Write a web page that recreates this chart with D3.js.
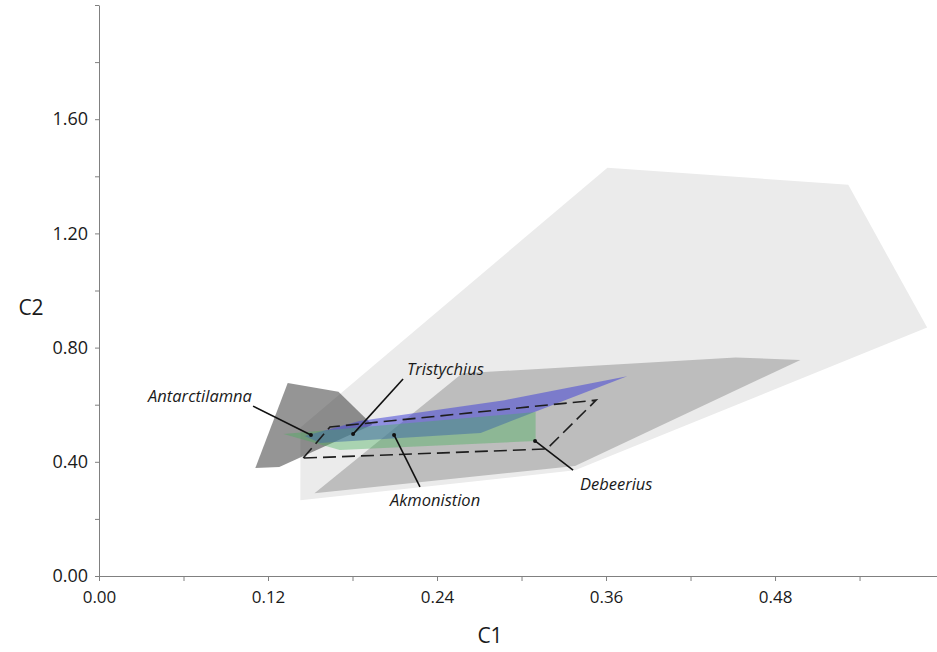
<!DOCTYPE html>
<html>
<head>
<meta charset="utf-8">
<script src="https://cdn.jsdelivr.net/npm/d3@7"></script>
<style>
  html, body { margin: 0; padding: 0; background: #fff; }
  svg { display: block; }
  text { font-family: "Open Sans", "Noto Sans", sans-serif; fill: #1a1a1a; }
</style>
</head>
<body>
<svg id="chart" width="937" height="652"></svg>
<script>
// Morphospace hulls in C1 / C2 space, listed back to front: [C1, C2] vertices
const hullLight  = [[0.143, 0.265], [0.143, 0.52], [0.361, 1.43], [0.532, 1.37], [0.588, 0.87], [0.338, 0.37]];
const hullMedium = [[0.153, 0.29], [0.258, 0.71], [0.452, 0.765], [0.498, 0.757], [0.338, 0.385]];
const hullDark   = [[0.134, 0.676], [0.170, 0.645], [0.194, 0.53], [0.128, 0.382], [0.111, 0.378]];
const hullBlue   = [[0.146, 0.490], [0.185, 0.543], [0.288, 0.616], [0.375, 0.700], [0.271, 0.501], [0.157, 0.466]];
const hullGreen  = [[0.131, 0.497], [0.310, 0.574], [0.310, 0.473], [0.171, 0.441]];
const hullDashed = [[0.145, 0.413], [0.164, 0.522], [0.353, 0.616], [0.318, 0.445]];

// Taxon call-outs: label anchor, leader start (at label) and leader end (dot on the hull)
const calloutNames  = ["Antarctilamna", "Tristychius", "Akmonistion", "Debeerius"];
const calloutText   = [[0.1086, 0.610], [0.2187, 0.704], [0.2066, 0.245], [0.3415, 0.301]];
const calloutAnchor = ["end", "start", "start", "start"];
const calloutFrom   = [[0.1094, 0.595], [0.2159, 0.690], [0.2279, 0.312], [0.3366, 0.371]];
const calloutTo     = [[0.1505, 0.494], [0.1804, 0.497], [0.2095, 0.494], [0.3096, 0.473]];

// Axes
const xTicks = [0, 0.06, 0.12, 0.18, 0.24, 0.30, 0.36, 0.42, 0.48, 0.54];
const xTickLabels = ["0.00", "", "0.12", "", "0.24", "", "0.36", "", "0.48", ""];
const yTicks = [0, 0.2, 0.4, 0.6, 0.8, 1.0, 1.2, 1.4, 1.6, 1.8, 2.0];
const yTickLabels = ["0.00", "", "0.40", "", "0.80", "", "1.20", "", "1.60", "", ""];
const xTitle = "C1";
const yTitle = "C2";

const svg = d3.select("#chart");
const x = d3.scaleLinear().domain([0, 0.595]).range([99, 937]);
const y = d3.scaleLinear().domain([0, 2]).range([576, 5]);

const poly = pts => "M" + pts.map(p => x(p[0]) + "," + y(p[1])).join("L") + "Z";

const hulls = [
  { pts: hullLight,  fill: "#ebebeb", opacity: 1 },
  { pts: hullMedium, fill: "#bdbdbd", opacity: 1 },
  { pts: hullDark,   fill: "#2b2b2b", opacity: 0.5 },
  { pts: hullBlue,   fill: "rgb(70,70,215)", opacity: 0.55 },
  { pts: hullGreen,  fill: "rgb(70,175,90)", opacity: 0.4 }
];

svg.append("g").selectAll("path")
  .data(hulls)
  .join("path")
  .attr("d", d => poly(d.pts))
  .attr("fill", d => d.fill)
  .attr("fill-opacity", d => d.opacity)
  .attr("stroke", "none");

svg.append("path")
  .attr("d", poly(hullDashed))
  .attr("fill", "none")
  .attr("stroke", "#1e1e1e")
  .attr("stroke-width", 1.6)
  .attr("stroke-dasharray", "13,6");

// Call-outs
const callouts = calloutNames.map((name, i) => ({
  name, t: calloutText[i], a: calloutAnchor[i], f: calloutFrom[i], e: calloutTo[i]
}));
const cg = svg.append("g");
cg.selectAll("line").data(callouts).join("line")
  .attr("x1", d => x(d.f[0])).attr("y1", d => y(d.f[1]))
  .attr("x2", d => x(d.e[0])).attr("y2", d => y(d.e[1]))
  .attr("stroke", "#111").attr("stroke-width", 1.6);
cg.selectAll("circle").data(callouts).join("circle")
  .attr("cx", d => x(d.e[0])).attr("cy", d => y(d.e[1]))
  .attr("r", 2).attr("fill", "#111");
cg.selectAll("text").data(callouts).join("text")
  .attr("x", d => x(d.t[0])).attr("y", d => y(d.t[1]))
  .attr("text-anchor", d => d.a)
  .style("font-style", "italic")
  .style("font-size", "16.5px")
  .text(d => d.name);

// X axis
const xAxis = d3.axisBottom(x)
  .tickValues(xTicks)
  .tickFormat((d, i) => xTickLabels[i])
  .tickSize(5).tickSizeOuter(0).tickPadding(10);
const gx = svg.append("g").attr("transform", `translate(0,${y(0)})`).call(xAxis);
gx.selectAll("text").style("font-size", "17px").attr("fill", "#1a1a1a");

// Y axis
const yAxis = d3.axisLeft(y)
  .tickValues(yTicks)
  .tickFormat((d, i) => yTickLabels[i])
  .tickSize(4).tickSizeOuter(0).tickPadding(7);
const gy = svg.append("g").attr("transform", `translate(${x(0)},0)`).call(yAxis);
gy.selectAll("text").style("font-size", "18px").attr("fill", "#1a1a1a");

[gx, gy].forEach(g => {
  g.select(".domain").attr("stroke", "#808080");
  g.selectAll(".tick line").attr("stroke", "#808080");
  g.attr("font-family", null);
});

// Axis titles
svg.append("text")
  .attr("x", 490).attr("y", 643)
  .attr("text-anchor", "middle")
  .style("font-size", "21px")
  .text(xTitle);
svg.append("text")
  .attr("x", 31).attr("y", 315)
  .attr("text-anchor", "middle")
  .style("font-size", "21px")
  .text(yTitle);
</script>
</body>
</html>
